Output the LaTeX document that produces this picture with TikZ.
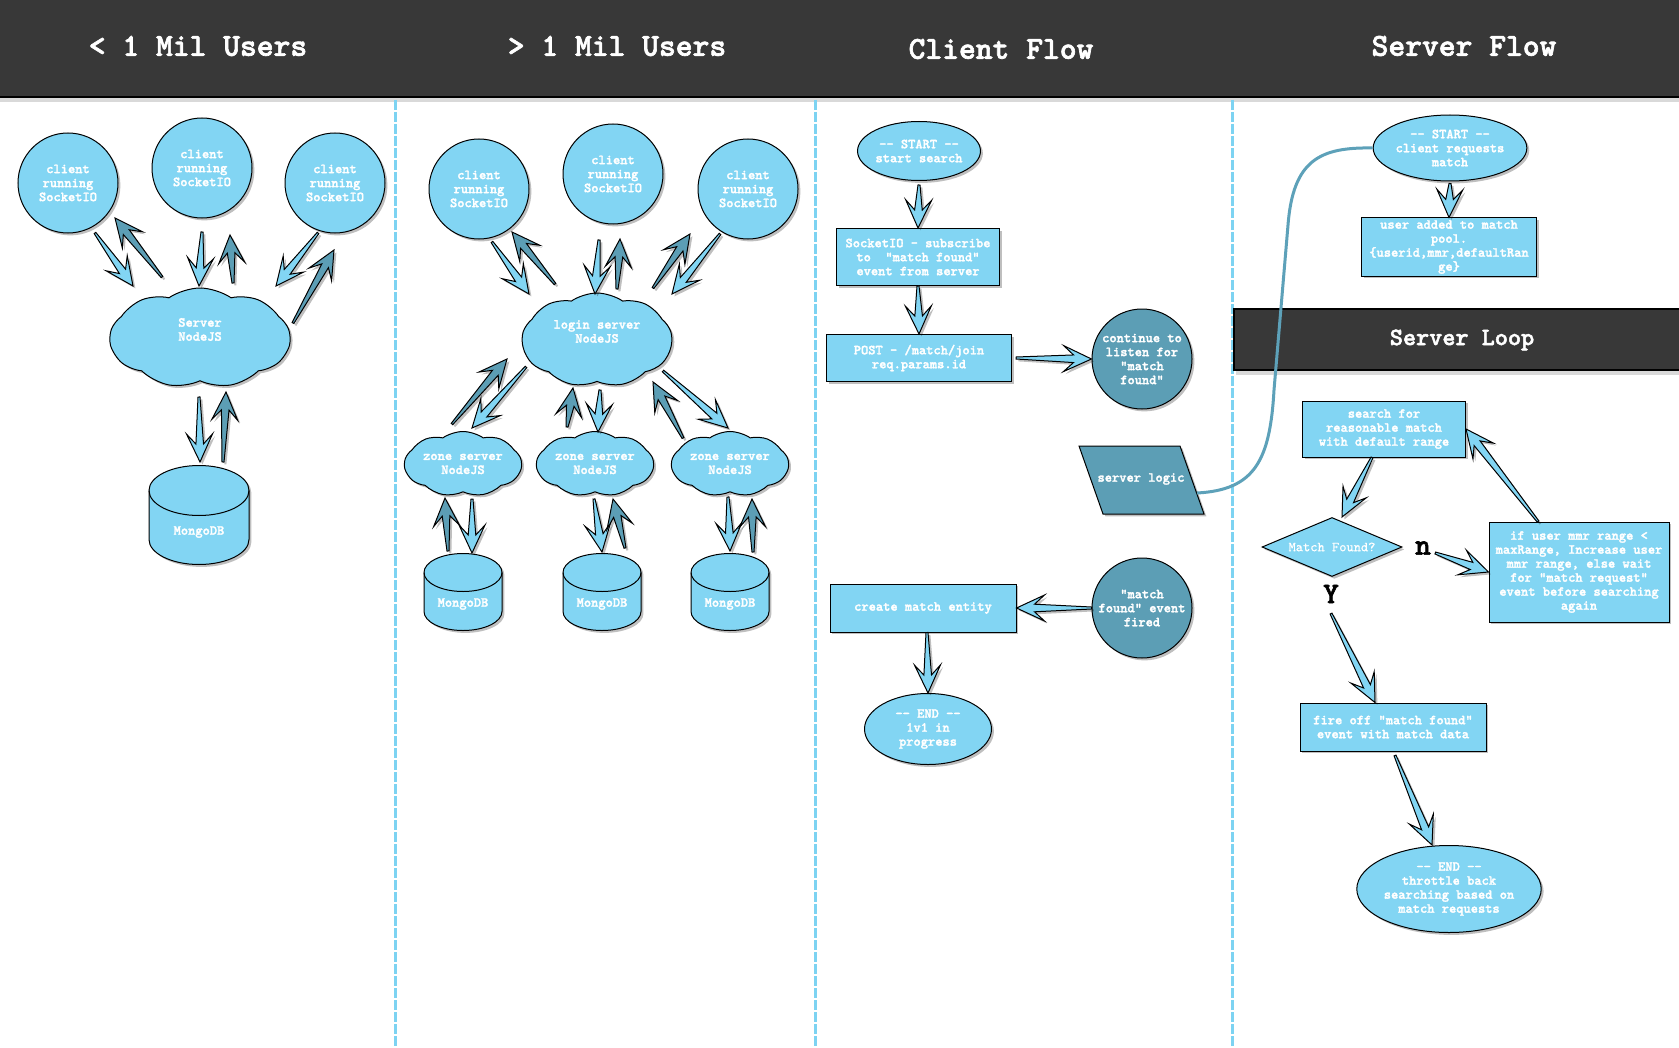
\documentclass[tikz,border=0pt]{standalone}
\usepackage{fontspec}
\setmonofont{lmmonolt10-bold}[Extension=.otf, FakeBold=2]
\newfontfamily\monoreg{lmmono10-regular}[Extension=.otf, FakeBold=0.6]
\usetikzlibrary{shapes.geometric,shapes.symbols,shadows,calc}
\definecolor{cLight}{HTML}{82D5F3}
\definecolor{cDark}{HTML}{5C9EB5}
\definecolor{cHead}{HTML}{383838}
\definecolor{cSep}{HTML}{7DD3F2}
\definecolor{cCurve}{HTML}{5DA1B9}
\newcommand\dblhy{-\kern0pt-}
\tikzset{
 txt/.style={font=\ttfamily\fontsize{6.9}{7}\selectfont, text=white, align=center, inner sep=0pt},
 shad/.style={drop shadow={shadow xshift=1.2pt, shadow yshift=-1.2pt, opacity=0.25, fill=black}},
 base/.style={txt, draw=black, line width=0.5pt, shad},
 lcirc/.style={base, circle, fill=cLight, minimum size=50pt},
 dcirc/.style={base, circle, fill=cDark, minimum size=50pt},
 lcloud/.style={base, cloud, cloud puffs=9, cloud puff arc=70, cloud ignores aspect, fill=cLight},
 lell/.style={base, ellipse, fill=cLight},
 lbox/.style={base, rectangle, fill=cLight},
 head/.style={font=\ttfamily\fontsize{16}{18}\selectfont, text=white, inner sep=0pt},
 loophead/.style={font=\ttfamily\fontsize{12.5}{14}\selectfont, text=white, inner sep=0pt},
 yn/.style={font=\ttfamily\fontsize{15}{16}\selectfont, text=black, inner sep=0pt},
 sep/.style={cSep, line width=1.5pt, dash pattern=on 5pt off 1pt},
 fat/.style={draw=black, line width=0.5pt, line join=miter, shad, to path={
   let \p1=(\tikztostart), \p2=(\tikztotarget),
       \n1={atan2(\y2-\y1,\x2-\x1)}, \n2={veclen(\x2-\x1,\y2-\y1)} in
   ($(\p1)+(\n1+90:0.5pt)$) -- ($(\p1)+(\n1:\n2-9pt)+(\n1+90:1.9pt)$)
   -- ($(\p1)+(\n1:\n2-14pt)+(\n1+90:6.5pt)$) -- (\p2)
   -- ($(\p1)+(\n1:\n2-14pt)+(\n1-90:6.5pt)$) -- ($(\p1)+(\n1:\n2-9pt)+(\n1-90:1.9pt)$)
   -- ($(\p1)+(\n1-90:0.5pt)$) -- cycle}},
 lfat/.style={fat, fill=cLight},
 dfat/.style={fat, fill=cDark},
}
% database cylinder: centre x, centre y, half width, half height, cap radius (pixels)
\newcommand\mongo[5]{%
 \path[fill=cLight, draw=black, line width=0.5pt, shad] (#1-#3,#2-#4+#5) -- (#1-#3,#2+#4-#5)
   arc[start angle=180, end angle=360, x radius=#3*0.5pt, y radius=#5*0.5pt]
   -- (#1+#3,#2-#4+#5)
   arc[start angle=0, end angle=180, x radius=#3*0.5pt, y radius=#5*0.5pt] -- cycle;
 \draw[black, line width=0.5pt] (#1-#3,#2-#4+#5)
   arc[start angle=180, end angle=360, x radius=#3*0.5pt, y radius=#5*0.5pt];}
\begin{document}
\begin{tikzpicture}[x=0.5pt,y=-0.5pt]
\useasboundingbox (0,0) rectangle (1679,1048);
\fill[white] (0,0) rectangle (1679,1048);
% header
\fill[black,opacity=0.15] (0,97) rectangle (1679,102);
\fill[cHead] (0,0) rectangle (1679,97);
\draw[black,line width=0.8pt] (0,97) -- (1679,97);
\node[head] (h1) at (198,46) {< 1 Mil Users};
\node[head] (h2) at (617,46) {> 1 Mil Users};
\node[head] (h3) at (1001,49) {Client Flow};
\node[head] (h4) at (1464,46) {Server Flow};
% separators
\draw[sep] (395,100) -- (395,1048);
\draw[sep] (815,100) -- (815,1048);
\draw[sep] (1232,100) -- (1232,1048);
% server loop bar
\fill[black,opacity=0.15] (1236,370) rectangle (1679,375);
\draw[fill=cHead, draw=black, line width=0.6pt] (1234,309) rectangle (1682,370);
\node[loophead] (sl) at (1462,340) {Server Loop};

% column 1
\node[lcirc] (c1) at (68,183) {client\\running\\SocketIO};
\node[lcirc] (c2) at (202,168) {client\\running\\SocketIO};
\node[lcirc] (c3) at (335,183) {client\\running\\SocketIO};
\node[lcloud, minimum width=90pt, minimum height=50pt, text depth=8.6pt] (srv) at (200,338) {Server\\NodeJS};
\mongo{199}{515}{50}{49.5}{25}
\node[txt] (m1) at (199,532) {MongoDB};

% column 2
\node[lcirc] (c4) at (479,189) {client\\running\\SocketIO};
\node[lcirc] (c5) at (613,174) {client\\running\\SocketIO};
\node[lcirc] (c6) at (748,189) {client\\running\\SocketIO};
\node[lcloud, minimum width=75pt, minimum height=47pt, text depth=8.6pt] (login) at (597,340) {login server\\NodeJS};
\node[lcloud, minimum width=58.5pt, minimum height=32.5pt] (z1) at (463,464) {zone server\\NodeJS};
\node[lcloud, minimum width=58.5pt, minimum height=32.5pt] (z2) at (595,464) {zone server\\NodeJS};
\node[lcloud, minimum width=58.5pt, minimum height=32.5pt] (z3) at (730,464) {zone server\\NodeJS};
\mongo{463}{592}{39}{38.5}{19}
\node[txt] (m2) at (463,604) {MongoDB};
\mongo{602}{592}{39}{38.5}{19}
\node[txt] (m3) at (602,604) {MongoDB};
\mongo{730}{592}{39}{38.5}{19}
\node[txt] (m4) at (730,604) {MongoDB};

% fat arrows of columns 1 and 2
\foreach \nm/\xa/\ya/\xb/\yb in {
  a1/95/233/133/286, a2/162/277/115/218, a3/202/232/199/286, a4/233/283/230/235,
  a5/318/233/276/286, a6/293/323/334/250, a7/199/397/200/462, a8/223/462/226/392,
  b1/492/242/529/294, b2/555/284/512/232, b3/599/240/595/294, b4/617/289/620/239,
  b5/653/288/690/234, b6/720/234/672/294, b7/452/424/507/359, b8/526/367/472/428,
  b9/567/427/573/388, b10/600/390/598/432, b11/683/438/653/382, b12/663/371/728/428,
  b13/448/551/445/498, b14/472/499/472/553, b15/594/499/602/552, b16/625/548/613/499,
  b17/728/497/730/551, b18/753/552/752/499}
  {\coordinate (\nm-s) at (\xa,\ya); \coordinate (\nm-e) at (\xb,\yb);}
\foreach \nm in {a1,a3,a5,a7,b1,b3,b6,b8,b10,b12,b14,b15,b17}
  {\draw[lfat] (\nm-s) to (\nm-e);}
\foreach \nm in {a2,a4,a6,a8,b2,b4,b5,b7,b9,b11,b13,b16,b18}
  {\draw[dfat] (\nm-s) to (\nm-e);}

% column 3
\node[lell, minimum width=59pt, minimum height=29.5pt] (st1) at (919,151) {\dblhy{} START \dblhy\\start search};
\node[lbox, minimum width=81.5pt, minimum height=28.5pt] (sub) at (918,257) {SocketIO - subscribe\\to\ \ "match found"\\event from server};
\node[lbox, minimum width=92.5pt, minimum height=23.5pt] (post) at (919,358) {POST - /match/join\\req.params.id};
\node[dcirc] (cont) at (1142,359) {continue to\\listen for\\"match\\found"};
\draw[fill=cDark, draw=black, line width=0.5pt, shad] (1079,446) -- (1180,446) -- (1204,514) -- (1103,514) -- cycle;
\node[txt] (logic) at (1141,479) {server logic};
\coordinate (logicR) at (1197,493);
\node[dcirc] (mf) at (1142,608) {"match\\found" event\\fired};
\node[lbox, minimum width=93pt, minimum height=24pt] (create) at (923,608) {create match entity};
\node[lell, minimum width=63.5pt, minimum height=35.5pt] (end1) at (928,729) {\dblhy{} END \dblhy\\1v1 in\\progress};

% column 4
\node[lell, minimum width=63pt, minimum height=33pt] (st2) at (1450,148) {\dblhy{} START \dblhy\\client requests\\match};
\node[lbox, minimum width=87.5pt, minimum height=29pt] (pool) at (1449,247) {user added to match\\pool.\\\{userid,mmr,defaultRan\\ge\}};
\node[lbox, minimum width=81.5pt, minimum height=28pt] (search) at (1384,429) {search for\\reasonable match\\with default range};
\node[base, diamond, aspect=2.37, fill=cLight, minimum width=70pt, minimum height=29.5pt, font=\monoreg\fontsize{6.9}{7}\selectfont] (dia) at (1332,547) {Match Found?};
\node[lbox, minimum width=90pt, minimum height=50pt] (ifb) at (1579,572) {if user mmr range <\\maxRange, Increase user\\mmr range, else wait\\for "match request"\\event before searching\\again};
\node[lbox, minimum width=93pt, minimum height=24pt] (fire) at (1393,727) {fire off "match found"\\event with match data};
\node[lell, minimum width=75pt, minimum height=43.5pt] (end2) at (1449,889) {\dblhy{} END \dblhy\\throttle back\\searching based on\\match requests};
\node[yn] (nlab) at (1423,548) {n};
\node[yn] (ylab) at (1331,594) {Y};

% connectors columns 3 and 4
\draw[lfat] ([yshift=-2pt]st1.south) to (sub.north);
\draw[lfat] (sub.south) to (post.north);
\draw[lfat] ([xshift=2pt]post.east) to (cont.west);
\draw[lfat] (mf.west) to (create.east);
\draw[lfat] ($(create.south)+(4,0)$) to (end1.north);
\draw[lfat] ([yshift=-1pt]st2.south) to (pool.north);
\draw[lfat] ($(search.south)+(-12,0)$) to ($(dia.north)+(10,0)$);
\draw[lfat] ($(nlab.east)+(4,5)$) to (ifb.west);
\draw[lfat] ($(ifb.north)+(-41,0)$) to (search.east);
\draw[lfat] ($(ylab.south)+(0,10)$) to ($(fire.north)+(-18,0)$);
\draw[lfat] ($(fire.south)+(2,4)$) to ($(end2.north)+(-17,0)$);
\draw[cCurve, line width=1.5pt] (logicR)
   .. controls (1255,490) and (1270,460) .. (1274,390) -- (1288,225)
   .. controls (1293,160) and (1320,147) .. (st2.west);
\end{tikzpicture}
\end{document}
